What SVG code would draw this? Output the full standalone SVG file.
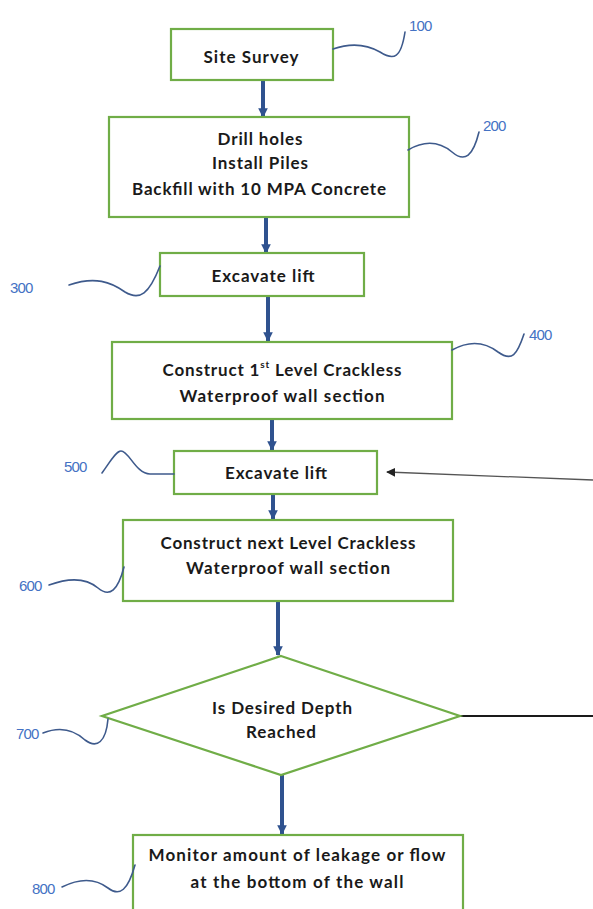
<svg xmlns="http://www.w3.org/2000/svg" width="593" height="909" viewBox="0 0 593 909">
<defs>
<marker id="bh" viewBox="0 0 10 10" refX="9" refY="5" markerWidth="2.4" markerHeight="2.4" orient="auto" markerUnits="strokeWidth">
<path d="M0,0 L10,5 L0,10 Z" fill="#2F528F"/>
</marker>
<marker id="kh" viewBox="0 0 10 10" refX="9" refY="5" markerWidth="7" markerHeight="7" orient="auto" markerUnits="strokeWidth">
<path d="M0,0 L10,5 L0,10 Z" fill="#222"/>
</marker>
<style>
.box{fill:#fff;stroke:#70AD47;stroke-width:2.2}
.t{font-family:Lato,"Liberation Sans",sans-serif;font-weight:700;font-size:17px;fill:#1a1a1a;text-anchor:middle;dominant-baseline:central}
.ref{font-family:"Liberation Sans",Arial,sans-serif;font-size:15px;fill:#4472C4;dominant-baseline:central;letter-spacing:-0.8px}
.sq{fill:none;stroke:#3E5A8C;stroke-width:1.6;stroke-linecap:round}
.arr{fill:none;stroke:#2F528F;stroke-width:4;marker-end:url(#bh)}
</style>
</defs>
<rect width="593" height="909" fill="#fff"/>
<g id="connectors">
<line class="arr" x1="263" y1="80" x2="263" y2="117"/>
<line class="arr" x1="266" y1="217" x2="266" y2="253"/>
<line class="arr" x1="268" y1="296" x2="268" y2="341"/>
<line class="arr" x1="272" y1="419" x2="272" y2="450"/>
<line class="arr" x1="273" y1="494" x2="273" y2="519"/>
<line class="arr" x1="278" y1="601" x2="278" y2="655"/>
<line class="arr" x1="282" y1="775" x2="282" y2="834"/>
<line x1="460" y1="716" x2="593" y2="716" stroke="#1a1a1a" stroke-width="2"/>
<line x1="593" y1="480" x2="387" y2="472" stroke="#555" stroke-width="1.3" marker-end="url(#kh)"/>
</g>
<g id="n100">
<rect class="box" x="171" y="29" width="162" height="51"/>
<text class="t" x="251" y="56" textLength="95" lengthAdjust="spacing">Site Survey</text>
<path class="sq" d="M333,49 C350,43 366,44 380,52 C394,61 401,58 405,32"/>
<text class="ref" x="409" y="25">100</text>
</g>
<g id="n200">
<rect class="box" x="109" y="117" width="300" height="100"/>
<text class="t" x="260" y="138" textLength="85" lengthAdjust="spacing">Drill holes</text>
<text class="t" x="260" y="162" textLength="96" lengthAdjust="spacing">Install Piles</text>
<text class="t" x="259" y="188" textLength="254" lengthAdjust="spacing">Backfill with 10 MPA Concrete</text>
<path class="sq" d="M408,150 C425,140 440,142 452,152 C465,163 473,156 479,132"/>
<text class="ref" x="483" y="125">200</text>
</g>
<g id="n300">
<rect class="box" x="160" y="253" width="204" height="43"/>
<text class="t" x="263" y="275" textLength="103" lengthAdjust="spacing">Excavate lift</text>
<path class="sq" d="M69,285 C95,276 111,282 125,292 C140,301 149,294 160,266"/>
<text class="ref" x="10" y="287">300</text>
</g>
<g id="n400">
<rect class="box" x="112" y="342" width="340" height="77"/>
<text class="t" x="282" y="369" textLength="239" lengthAdjust="spacing">Construct 1<tspan font-size="10" dy="-5">st</tspan><tspan dy="5"> Level Crackless</tspan></text>
<text class="t" x="282" y="395" textLength="205" lengthAdjust="spacing">Waterproof wall section</text>
<path class="sq" d="M452,350 C470,340 485,342 498,352 C512,362 517,355 524,334"/>
<text class="ref" x="529" y="334">400</text>
</g>
<g id="n500">
<rect class="box" x="174" y="451" width="203" height="43"/>
<text class="t" x="276" y="472" textLength="102" lengthAdjust="spacing">Excavate lift</text>
<path class="sq" d="M102,473 C110,462 116,451 121,451 C129,451 136,474 150,474 L174,474"/>
<text class="ref" x="64" y="466">500</text>
</g>
<g id="n600">
<rect class="box" x="123" y="520" width="330" height="81"/>
<text class="t" x="288" y="542" textLength="255" lengthAdjust="spacing">Construct next Level Crackless</text>
<text class="t" x="288" y="567" textLength="204" lengthAdjust="spacing">Waterproof wall section</text>
<path class="sq" d="M49,585 C68,578 85,577 98,588 C110,598 118,590 124,567"/>
<text class="ref" x="19" y="585">600</text>
</g>
<g id="n700">
<polygon class="box" points="281,656 460,716 281,775 102,716"/>
<text class="t" x="282" y="707" textLength="140" lengthAdjust="spacing">Is Desired Depth</text>
<text class="t" x="281" y="731" textLength="70" lengthAdjust="spacing">Reached</text>
<path class="sq" d="M43,733 C58,727 72,728 85,740 C97,749 106,742 108,719"/>
<text class="ref" x="16" y="733">700</text>
</g>
<g id="n800">
<rect class="box" x="133" y="835" width="330" height="90"/>
<text class="t" x="297" y="854" textLength="297" lengthAdjust="spacing">Monitor amount of leakage or flow</text>
<text class="t" x="297" y="881" textLength="213" lengthAdjust="spacing">at the bottom of the wall</text>
<path class="sq" d="M62,887 C80,878 95,878 108,888 C120,897 128,890 135,865"/>
<text class="ref" x="32" y="888">800</text>
</g>
</svg>
